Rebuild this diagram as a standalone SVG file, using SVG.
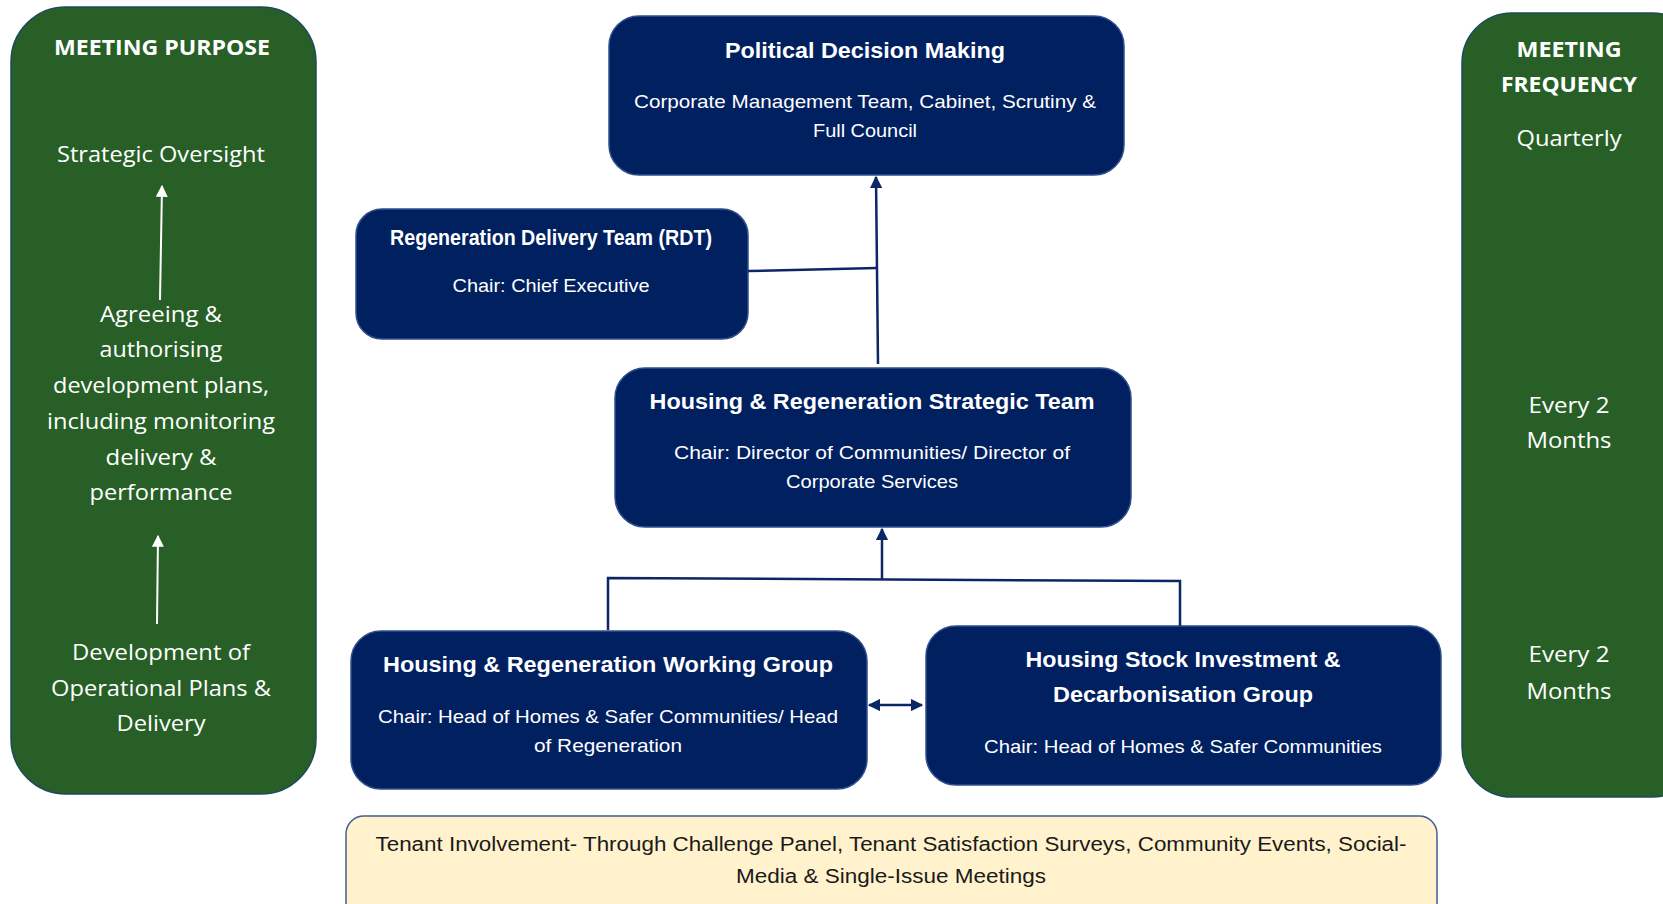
<svg xmlns="http://www.w3.org/2000/svg" width="1663" height="904" viewBox="0 0 1663 904">
<defs>
<style>
.green{fill:#275f27;stroke:#1e4a5e;stroke-width:1.5}
.navy{fill:#002060;stroke:#2f4f8f;stroke-width:1.5}
.tenant{fill:#fff2cc;stroke:#3f5f95;stroke-width:1.5}
.gh{font-family:"Open Sans","Liberation Sans",sans-serif;font-weight:bold;fill:#fff;text-anchor:middle;font-size:21px}
.gt{font-family:"Open Sans","Liberation Sans",sans-serif;fill:#fff;text-anchor:middle;font-size:22px}
.nt{font-family:"Liberation Sans",Arial,sans-serif;font-weight:bold;fill:#fff;text-anchor:middle;font-size:22px}
.ns{font-family:"Liberation Sans",Arial,sans-serif;fill:#fff;text-anchor:middle;font-size:19px}
.tt{font-family:"Liberation Sans",Arial,sans-serif;fill:#1a1a1a;text-anchor:middle;font-size:20px}
.conn{fill:none;stroke:#0b2766;stroke-width:2.5}
.wconn{fill:none;stroke:#ffffff;stroke-width:2}
</style>
<marker id="ah" viewBox="0 0 10 10" refX="9" refY="5" markerWidth="5" markerHeight="5" orient="auto-start-reverse" markerUnits="strokeWidth">
<path d="M0,0 L10,5 L0,10 z" fill="#0b2766"/>
</marker>
<marker id="wah" viewBox="0 0 10 10" refX="9" refY="5" markerWidth="6" markerHeight="6" orient="auto" markerUnits="strokeWidth">
<path d="M0,0 L10,5 L0,10 z" fill="#ffffff"/>
</marker>
</defs>

<g id="meeting-purpose">
<rect class="green" x="11" y="7" width="305" height="787" rx="55"/>
<text class="gh" x="162" y="55" textLength="216" lengthAdjust="spacingAndGlyphs">MEETING PURPOSE</text>
<text class="gt" x="161" y="162" textLength="208" lengthAdjust="spacingAndGlyphs">Strategic Oversight</text>
<text class="gt" x="161" y="322" textLength="122" lengthAdjust="spacingAndGlyphs">Agreeing &amp;</text>
<text class="gt" x="161" y="357" textLength="123" lengthAdjust="spacingAndGlyphs">authorising</text>
<text class="gt" x="161" y="393" textLength="216" lengthAdjust="spacingAndGlyphs">development plans,</text>
<text class="gt" x="161" y="429" textLength="228" lengthAdjust="spacingAndGlyphs">including monitoring</text>
<text class="gt" x="161" y="465" textLength="111" lengthAdjust="spacingAndGlyphs">delivery &amp;</text>
<text class="gt" x="161" y="500" textLength="143" lengthAdjust="spacingAndGlyphs">performance</text>
<text class="gt" x="161" y="660" textLength="178" lengthAdjust="spacingAndGlyphs">Development of</text>
<text class="gt" x="161" y="696" textLength="220" lengthAdjust="spacingAndGlyphs">Operational Plans &amp;</text>
<text class="gt" x="161" y="731" textLength="89" lengthAdjust="spacingAndGlyphs">Delivery</text>
<path class="wconn" d="M160,300 L162,186" marker-end="url(#wah)"/>
<path class="wconn" d="M157,624 L158,536" marker-end="url(#wah)"/>
</g>

<g id="meeting-frequency">
<rect class="green" x="1462" y="13" width="240" height="784" rx="50"/>
<text class="gh" x="1569" y="57" textLength="105" lengthAdjust="spacingAndGlyphs">MEETING</text>
<text class="gh" x="1569" y="92" textLength="136" lengthAdjust="spacingAndGlyphs">FREQUENCY</text>
<text class="gt" x="1569" y="146" textLength="105" lengthAdjust="spacingAndGlyphs">Quarterly</text>
<text class="gt" x="1569" y="413" textLength="81" lengthAdjust="spacingAndGlyphs">Every 2</text>
<text class="gt" x="1569" y="448" textLength="85" lengthAdjust="spacingAndGlyphs">Months</text>
<text class="gt" x="1569" y="662" textLength="81" lengthAdjust="spacingAndGlyphs">Every 2</text>
<text class="gt" x="1569" y="699" textLength="85" lengthAdjust="spacingAndGlyphs">Months</text>
</g>

<g id="political-decision-making">
<rect class="navy" x="609" y="16" width="515" height="159" rx="30"/>
<text class="nt" x="865" y="58" textLength="280" lengthAdjust="spacingAndGlyphs">Political Decision Making</text>
<text class="ns" x="865" y="108" textLength="462" lengthAdjust="spacingAndGlyphs">Corporate Management Team, Cabinet, Scrutiny &amp;</text>
<text class="ns" x="865" y="137" textLength="104" lengthAdjust="spacingAndGlyphs">Full Council</text>
</g>

<g id="rdt">
<rect class="navy" x="356" y="209" width="392" height="130" rx="26"/>
<text class="nt" x="551" y="245" textLength="322" lengthAdjust="spacingAndGlyphs">Regeneration Delivery Team (RDT)</text>
<text class="ns" x="551" y="292" textLength="197" lengthAdjust="spacingAndGlyphs">Chair: Chief Executive</text>
</g>

<g id="hrst">
<rect class="navy" x="615" y="368" width="516" height="159" rx="30"/>
<text class="nt" x="872" y="409" textLength="445" lengthAdjust="spacingAndGlyphs">Housing &amp; Regeneration Strategic Team</text>
<text class="ns" x="872" y="459" textLength="396" lengthAdjust="spacingAndGlyphs">Chair: Director of Communities/ Director of</text>
<text class="ns" x="872" y="488" textLength="172" lengthAdjust="spacingAndGlyphs">Corporate Services</text>
</g>

<g id="hrwg">
<rect class="navy" x="351" y="631" width="516" height="158" rx="30"/>
<text class="nt" x="608" y="672" textLength="450" lengthAdjust="spacingAndGlyphs">Housing &amp; Regeneration Working Group</text>
<text class="ns" x="608" y="723" textLength="460" lengthAdjust="spacingAndGlyphs">Chair: Head of Homes &amp; Safer Communities/ Head</text>
<text class="ns" x="608" y="752" textLength="148" lengthAdjust="spacingAndGlyphs">of Regeneration</text>
</g>

<g id="hsidg">
<rect class="navy" x="926" y="626" width="515" height="159" rx="30"/>
<text class="nt" x="1183" y="667" textLength="315" lengthAdjust="spacingAndGlyphs">Housing Stock Investment &amp;</text>
<text class="nt" x="1183" y="702" textLength="260" lengthAdjust="spacingAndGlyphs">Decarbonisation Group</text>
<text class="ns" x="1183" y="753" textLength="398" lengthAdjust="spacingAndGlyphs">Chair: Head of Homes &amp; Safer Communities</text>
</g>

<g id="tenant-involvement">
<rect class="tenant" x="346" y="816" width="1091" height="110" rx="18"/>
<text class="tt" x="891" y="851" textLength="1031" lengthAdjust="spacingAndGlyphs">Tenant Involvement- Through Challenge Panel, Tenant Satisfaction Surveys, Community Events, Social-</text>
<text class="tt" x="891" y="883" textLength="310" lengthAdjust="spacingAndGlyphs">Media &amp; Single-Issue Meetings</text>
</g>

<g id="connectors">
<path class="conn" d="M878,364 L876,177" marker-end="url(#ah)"/>
<path class="conn" d="M748,271 L877,268"/>
<path class="conn" d="M882,579 L882,529" marker-end="url(#ah)"/>
<path class="conn" d="M608,630 L608,578 L1180,581 L1180,626"/>
<path class="conn" d="M869,705 L922,705" marker-start="url(#ah)" marker-end="url(#ah)"/>
</g>
</svg>
